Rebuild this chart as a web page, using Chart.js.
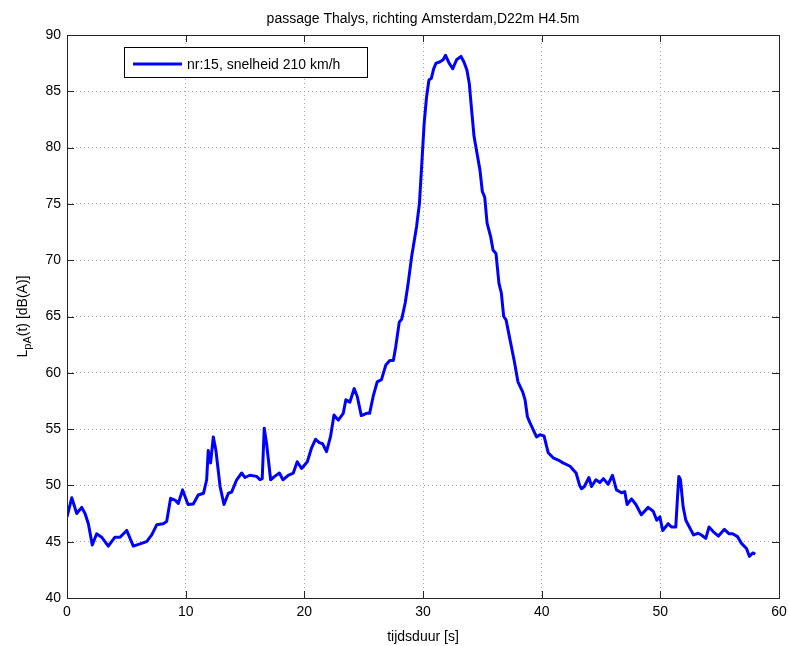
<!DOCTYPE html>
<html lang="nl">
<head>
  <meta charset="utf-8">
  <title>passage Thalys</title>
  <script src="https://cdn.jsdelivr.net/npm/chart.js@4"></script>
  <style>
html, body {
  margin: 0;
  padding: 0;
  background: #fff;
}
#wrap {
  width: 789px;
  height: 646px;
}
  </style>
</head>
<body>
  <div id="wrap"><canvas id="lpa-chart" width="789" height="646"></canvas></div>
  <script>
// time (s) and sound level LpA(t) (dB(A))
const times = [
  0, 0.4, 0.82, 1.24, 1.52, 1.8, 2.13, 2.5, 2.92, 3.48,
  4.04, 4.47, 5.03, 5.59, 6.15, 6.71, 7.14, 7.56, 8.1, 8.4,
  8.73, 9.1, 9.38, 9.74, 10.2, 10.64, 11.06, 11.5, 11.77, 11.9,
  12.1, 12.33, 12.55, 12.9, 13.23, 13.6, 13.87, 14.3, 14.72, 15.0,
  15.4, 15.98, 16.26, 16.45, 16.62, 16.82, 17.16, 17.5, 17.9, 18.2,
  18.64, 19.07, 19.4, 19.77, 20.25, 20.6, 20.95, 21.26, 21.54, 21.87,
  22.2, 22.5, 22.86, 23.28, 23.5, 23.84, 24.2, 24.46, 24.8, 25.25,
  25.5, 25.8, 26.14, 26.5, 26.87, 27.2, 27.5, 27.7, 28.0, 28.2,
  28.5, 28.75, 29.04, 29.46, 29.7, 29.9, 30.1, 30.3, 30.5, 30.7,
  30.9, 31.1, 31.4, 31.7, 31.9, 32.2, 32.5, 32.83, 33.2, 33.45,
  33.7, 33.9, 34.1, 34.3, 34.5, 34.8, 35.0, 35.2, 35.4, 35.7,
  35.9, 36.15, 36.4, 36.6, 36.8, 37.0, 37.3, 37.7, 38.0, 38.4,
  38.6, 38.8, 39.0, 39.3, 39.57, 39.85, 40.2, 40.55, 40.97, 41.4,
  41.8, 42.4, 42.65, 42.9, 43.2, 43.36, 43.6, 43.98, 44.2, 44.57,
  44.9, 45.2, 45.6, 45.97, 46.3, 46.73, 47.0, 47.2, 47.57, 47.94,
  48.4, 48.97, 49.4, 49.7, 49.96, 50.2, 50.66, 50.94, 51.3, 51.45,
  51.56, 51.7, 51.92, 52.15, 52.5, 52.8, 53.2, 53.46, 53.83, 54.1,
  54.45, 54.9, 55.4, 55.8, 56.1, 56.5, 56.84, 57.26, 57.5, 57.8, 58.0
];
const levels = [
  47.2, 48.9, 47.5, 48.05, 47.5, 46.6, 44.7, 45.7, 45.4, 44.6,
  45.4, 45.4, 46.0, 44.6, 44.8, 45.0, 45.6, 46.5, 46.6, 46.8,
  48.85, 48.7, 48.4, 49.6, 48.3, 48.35, 49.15, 49.3, 50.5, 53.1,
  52.0, 54.3, 53.1, 49.9, 48.3, 49.3, 49.4, 50.5, 51.1, 50.7,
  50.9, 50.8, 50.5, 50.6, 55.07, 53.7, 50.5, 50.8, 51.1, 50.5,
  50.9, 51.1, 52.1, 51.5, 52.1, 53.3, 54.1, 53.8, 53.7, 53.0,
  54.3, 56.25, 55.8, 56.4, 57.6, 57.4, 58.6, 57.9, 56.2, 56.4,
  56.4, 57.9, 59.2, 59.4, 60.7, 61.1, 61.1, 62.3, 64.5, 64.75,
  66.2, 67.95, 70.3, 73.0, 75.05, 78.6, 82.2, 84.5, 86.0, 86.15,
  87.0, 87.5, 87.6, 87.8, 88.2, 87.5, 87.0, 87.8, 88.1, 87.6,
  86.9, 85.7, 83.3, 81.0, 79.8, 78.0, 76.1, 75.6, 73.3, 72.1,
  70.9, 70.6, 67.95, 67.1, 65.0, 64.7, 63.1, 61.0, 59.2, 58.3,
  57.6, 56.1, 55.6, 54.9, 54.3, 54.5, 54.4, 52.9, 52.45, 52.25,
  52.0, 51.7, 51.4, 51.1, 50.0, 49.7, 49.9, 50.7, 49.9, 50.5,
  50.25, 50.6, 50.1, 50.9, 49.6, 49.35, 49.45, 48.3, 48.8, 48.3,
  47.4, 48.05, 47.7, 46.9, 47.2, 46.0, 46.6, 46.3, 46.3, 49.0,
  50.8, 50.5, 48.1, 46.9, 46.2, 45.6, 45.75, 45.6, 45.3, 46.3,
  45.9, 45.5, 46.1, 45.7, 45.7, 45.45, 44.85, 44.4, 43.7, 44.0, 43.9
];

const xTicks = [0, 10, 20, 30, 40, 50, 60];
const yTicks = [40, 45, 50, 55, 60, 65, 70, 75, 80, 85, 90];

const chartTitle = 'passage Thalys, richting Amsterdam,D22m H4.5m';
const xLabel = 'tijdsduur [s]';
const seriesLabel = 'nr:15, snelheid 210 km/h';

const FONT = '"Liberation Sans", Arial, sans-serif';
const BLUE = '#0000ff';

// box round the axes, inward tick marks, title, y label with subscript and legend
const matlabLook = {
  id: 'matlabLook',
  afterDraw(chart) {
    const ctx = chart.ctx;
    const a = chart.chartArea;
    const xs = chart.scales.x;
    const ys = chart.scales.y;
    ctx.save();

    ctx.strokeStyle = '#262626';
    ctx.lineWidth = 1;
    ctx.beginPath();
    xTicks.forEach(v => {
      const px = Math.round(xs.getPixelForValue(v)) + 0.5;
      ctx.moveTo(px, a.bottom); ctx.lineTo(px, a.bottom - 7);
      ctx.moveTo(px, a.top); ctx.lineTo(px, a.top + 7);
    });
    yTicks.forEach(v => {
      const py = Math.round(ys.getPixelForValue(v)) + 0.5;
      ctx.moveTo(a.left, py); ctx.lineTo(a.left + 7, py);
      ctx.moveTo(a.right, py); ctx.lineTo(a.right - 7, py);
    });
    ctx.stroke();
    ctx.strokeRect(Math.round(a.left) + 0.5, Math.round(a.top) + 0.5,
      Math.round(a.right - a.left), Math.round(a.bottom - a.top));

    // title
    ctx.fillStyle = '#000';
    ctx.font = '14px ' + FONT;
    ctx.textAlign = 'center';
    ctx.textBaseline = 'alphabetic';
    ctx.fillText(chartTitle, (a.left + a.right) / 2, 23);

    // y label: L_pA(t) [dB(A)]
    ctx.save();
    ctx.translate(27, (a.top + a.bottom) / 2);
    ctx.rotate(-Math.PI / 2);
    const main1 = 'L', sub = 'pA', main2 = '(t) [dB(A)]';
    ctx.font = '14px ' + FONT;
    const w1 = ctx.measureText(main1).width;
    const w3 = ctx.measureText(main2).width;
    ctx.font = '11px ' + FONT;
    const w2 = ctx.measureText(sub).width;
    let x0 = -(w1 + w2 + w3) / 2;
    ctx.textAlign = 'left';
    ctx.font = '14px ' + FONT;
    ctx.fillText(main1, x0, 0);
    ctx.font = '11px ' + FONT;
    ctx.fillText(sub, x0 + w1, 4);
    ctx.font = '14px ' + FONT;
    ctx.fillText(main2, x0 + w1 + w2, 0);
    ctx.restore();

    // legend
    const lx = 124.5, ly = 47.5, lw = 243, lh = 30;
    ctx.fillStyle = '#fff';
    ctx.fillRect(lx, ly, lw, lh);
    ctx.strokeStyle = '#000';
    ctx.lineWidth = 1;
    ctx.strokeRect(lx, ly, lw, lh);
    ctx.strokeStyle = BLUE;
    ctx.lineWidth = 3;
    ctx.beginPath();
    ctx.moveTo(133, 64); ctx.lineTo(182, 64);
    ctx.stroke();
    ctx.fillStyle = '#000';
    ctx.font = '14px ' + FONT;
    ctx.textAlign = 'left';
    ctx.fillText(seriesLabel, 187, 69);

    ctx.restore();
  }
};

const config = {
  type: 'line',
  data: {
    datasets: [{
      label: seriesLabel,
      data: times.map((t, i) => ({ x: t, y: levels[i] })),
      borderColor: BLUE,
      borderWidth: 3,
      borderJoinStyle: 'round',
      pointRadius: 0,
      tension: 0,
      fill: false
    }]
  },
  options: {
    responsive: false,
    animation: false,
    layout: {
      padding: { top: 35, right: 0, left: 0, bottom: 0 }
    },
    plugins: {
      legend: { display: false },
      tooltip: { enabled: false }
    },
    scales: {
      x: {
        type: 'linear',
        min: 0,
        max: 60,
        afterBuildTicks: (s) => { s.ticks = xTicks.map(v => ({ value: v })); },
        afterFit: (s) => { s.height = 48; s.paddingRight = 10; },
        grid: { color: '#a8a8a8', lineWidth: 1, drawTicks: false },
        border: { display: true, color: '#262626', dash: [1, 3] },
        ticks: {
          color: '#000',
          padding: 6,
          maxRotation: 0,
          font: { family: FONT, size: 14 }
        },
        title: {
          display: true,
          text: xLabel,
          color: '#000',
          padding: { top: 2, bottom: 0 },
          font: { family: FONT, size: 14 }
        }
      },
      y: {
        type: 'linear',
        min: 40,
        max: 90,
        afterBuildTicks: (s) => { s.ticks = yTicks.map(v => ({ value: v })); },
        afterFit: (s) => { s.width = 67; },
        grid: { color: '#a8a8a8', lineWidth: 1, drawTicks: false },
        border: { display: true, color: '#262626', dash: [1, 3] },
        ticks: {
          color: '#000',
          padding: 6,
          font: { family: FONT, size: 14 }
        }
      }
    }
  },
  plugins: [matlabLook]
};

new Chart(document.getElementById('lpa-chart'), config);
</script>
</body>
</html>
